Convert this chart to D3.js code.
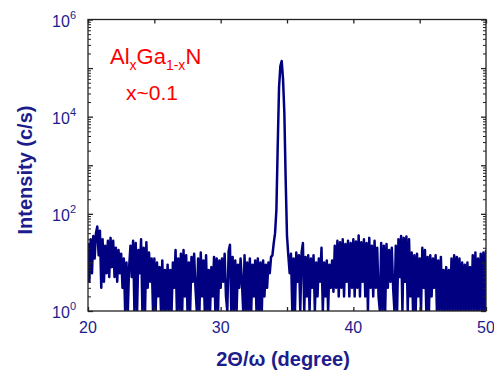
<!DOCTYPE html>
<html>
<head>
<meta charset="utf-8">
<script src="https://cdn.jsdelivr.net/npm/d3@7"></script>
<style>
  body { margin: 0; background: #fff; }
  svg text { font-family: Arial, "Liberation Sans", sans-serif; }
</style>
</head>
<body>
<div id="chart"></div>
<script>
// scan: 2theta from 20 to 50 deg, step 0.1
const scanStart = 20;
const scanStep = 0.1;
const intensity = [
  25, 4, 30, 6, 35, 12, 40, 55, 14, 45,
  3, 30, 4, 22, 6, 28, 5, 32, 8, 28,
  5, 20, 4, 18, 6, 15, 3, 12, 1, 10,
  1, 8, 22, 5, 28, 1, 25, 1, 18, 6,
  30, 1, 20, 1, 26, 3, 16, 4, 12, 1,
  12, 1, 10, 2, 8, 1, 11, 1, 7, 1,
  9, 1, 7, 1, 10, 3, 18, 1, 12, 1,
  15, 1, 18, 2, 14, 1, 10, 1, 13, 4,
  15, 3, 1, 12, 1, 16, 2, 11, 1, 14,
  1, 7, 1, 8, 2, 13, 1, 12, 1, 11,
  3, 12, 4, 15, 2, 1, 17, 23, 1, 13,
  1, 11, 1, 9, 3, 12, 4, 1, 14, 1,
  10, 1, 12, 1, 9, 2, 11, 1, 12, 1,
  10, 1, 11, 2, 9, 3, 10, 6, 13, 14,
  25, 40, 120, 2500, 40000, 110000, 140000, 60000, 12000, 500,
  35, 14, 6, 15, 1, 12, 1, 16, 4, 14,
  1, 16, 25, 1, 13, 2, 14, 1, 12, 3,
  14, 1, 10, 2, 12, 4, 20, 1, 10, 2,
  11, 1, 9, 3, 11, 2.5, 22, 3, 28, 2,
  26, 3, 30, 2, 24, 4, 28, 2, 25, 3,
  30, 2, 27, 3, 36, 2, 26, 4, 30, 2,
  25, 1, 32, 3, 22, 2, 28, 3, 20, 2,
  1, 25, 1, 22, 1, 24, 3, 18, 4, 20,
  3, 1, 22, 1, 30, 5, 35, 1, 32, 4,
  34, 1, 30, 2, 16, 1, 14, 1, 15, 2,
  12, 1, 20, 3, 18, 1, 13, 1, 14, 2,
  12, 3, 14, 1, 11, 1, 13, 1, 7, 1,
  8, 1, 7, 1, 12, 1, 14, 1, 13, 1,
  12, 1, 10, 1, 9, 1, 10, 1, 8, 1,
  14, 1, 16, 1, 12, 1, 15, 1, 16, 1,
  18
];
const xTicks = [20, 30, 40, 50];
const xMinorTicks = [25, 35, 45];
const yLabelExps = [0, 2, 4, 6];

const width = 494, height = 375;
const margin = { left: 88, right: 8, top: 19.5, bottom: 64 };
const navy = '#000080';
const labelColor = '#1c1c8c';

const svg = d3.select('#chart').append('svg')
  .attr('width', width)
  .attr('height', height);

const x = d3.scaleLinear().domain([20, 50]).range([margin.left, width - margin.right]);
const y = d3.scaleLog().domain([1, 1e6]).range([height - margin.bottom, margin.top]);

const data = intensity.map((v, i) => ({ t: scanStart + i * scanStep, v }));

svg.append('clipPath').attr('id', 'plot-clip')
  .append('rect')
  .attr('x', x(20)).attr('y', y(1e6))
  .attr('width', x(50) - x(20)).attr('height', y(1) - y(1e6));

const line = d3.line()
  .x(d => x(d.t))
  .y(d => y(Math.max(d.v, 0.5)));

svg.append('path')
  .datum(data)
  .attr('clip-path', 'url(#plot-clip)')
  .attr('fill', 'none')
  .attr('stroke', navy)
  .attr('stroke-width', 2.5)
  .attr('stroke-linejoin', 'round')
  .attr('d', line);

// frame
svg.append('rect')
  .attr('x', x(20)).attr('y', y(1e6))
  .attr('width', x(50) - x(20)).attr('height', y(1) - y(1e6))
  .attr('fill', 'none')
  .attr('stroke', '#222')
  .attr('stroke-width', 1.3);

// x ticks, inward, top and bottom
const allX = xTicks.concat(xMinorTicks);
svg.append('g').attr('transform', `translate(0,${y(1)})`)
  .call(d3.axisBottom(x).tickValues(allX).tickSize(-4).tickFormat(''))
  .call(g => g.select('.domain').remove())
  .call(g => g.selectAll('line').attr('stroke', '#222').attr('stroke-width', 1.3));
svg.append('g').attr('transform', `translate(0,${y(1e6)})`)
  .call(d3.axisTop(x).tickValues(allX).tickSize(-4).tickFormat(''))
  .call(g => g.select('.domain').remove())
  .call(g => g.selectAll('line').attr('stroke', '#222').attr('stroke-width', 1.3));

// y ticks, inward, left and right
const yMajor = d3.range(0, 7).map(e => Math.pow(10, e));
const yMinor = [];
for (let e = 0; e < 6; e++) for (let m = 2; m <= 9; m++) yMinor.push(m * Math.pow(10, e));
[[d3.axisLeft, x(20)], [d3.axisRight, x(50)]].forEach(([ax, px]) => {
  svg.append('g').attr('transform', `translate(${px},0)`)
    .call(ax(y).tickValues(yMajor).tickSize(-5).tickFormat(''))
    .call(g => g.select('.domain').remove())
    .call(g => g.selectAll('line').attr('stroke', '#222').attr('stroke-width', 1.3));
  svg.append('g').attr('transform', `translate(${px},0)`)
    .call(ax(y).tickValues(yMinor).tickSize(-3).tickFormat(''))
    .call(g => g.select('.domain').remove())
    .call(g => g.selectAll('line').attr('stroke', '#222').attr('stroke-width', 1));
});

// x tick labels
svg.append('g').selectAll('text')
  .data(xTicks)
  .enter().append('text')
  .attr('x', d => x(d))
  .attr('y', y(1) + 22)
  .attr('text-anchor', 'middle')
  .attr('font-size', 16)
  .attr('fill', labelColor)
  .text(d => d);

// y tick labels 10^n
const yl = svg.append('g').selectAll('text')
  .data(yLabelExps)
  .enter().append('text')
  .attr('x', x(20) - 12)
  .attr('y', d => y(Math.pow(10, d)) + 7)
  .attr('text-anchor', 'end')
  .attr('font-size', 16)
  .attr('fill', labelColor);
yl.append('tspan').text('10');
yl.append('tspan').attr('dy', -8).attr('font-size', 11).text(d => d);

// axis titles
svg.append('text')
  .attr('x', (x(20) + x(50)) / 2 - 4)
  .attr('y', 366)
  .attr('text-anchor', 'middle')
  .attr('font-size', 20)
  .attr('font-weight', 'bold')
  .attr('fill', labelColor)
  .text('2Θ/ω (degree)');

svg.append('text')
  .attr('transform', 'translate(32,170) rotate(-90)')
  .attr('text-anchor', 'middle')
  .attr('font-size', 20)
  .attr('font-weight', 'bold')
  .attr('fill', labelColor)
  .text('Intensity (c/s)');

// composition label
const red = '#ff0000';
const comp = svg.append('text')
  .attr('x', 110)
  .attr('y', 64)
  .attr('font-size', 22)
  .attr('fill', red);
comp.append('tspan').text('Al');
comp.append('tspan').attr('dy', 6).attr('font-size', 14).text('x');
comp.append('tspan').attr('dy', -6).text('Ga');
comp.append('tspan').attr('dy', 6).attr('font-size', 14).text('1-x');
comp.append('tspan').attr('dy', -6).text('N');

svg.append('text')
  .attr('x', 126)
  .attr('y', 100)
  .attr('font-size', 21)
  .attr('fill', red)
  .text('x~0.1');
</script>
</body>
</html>
